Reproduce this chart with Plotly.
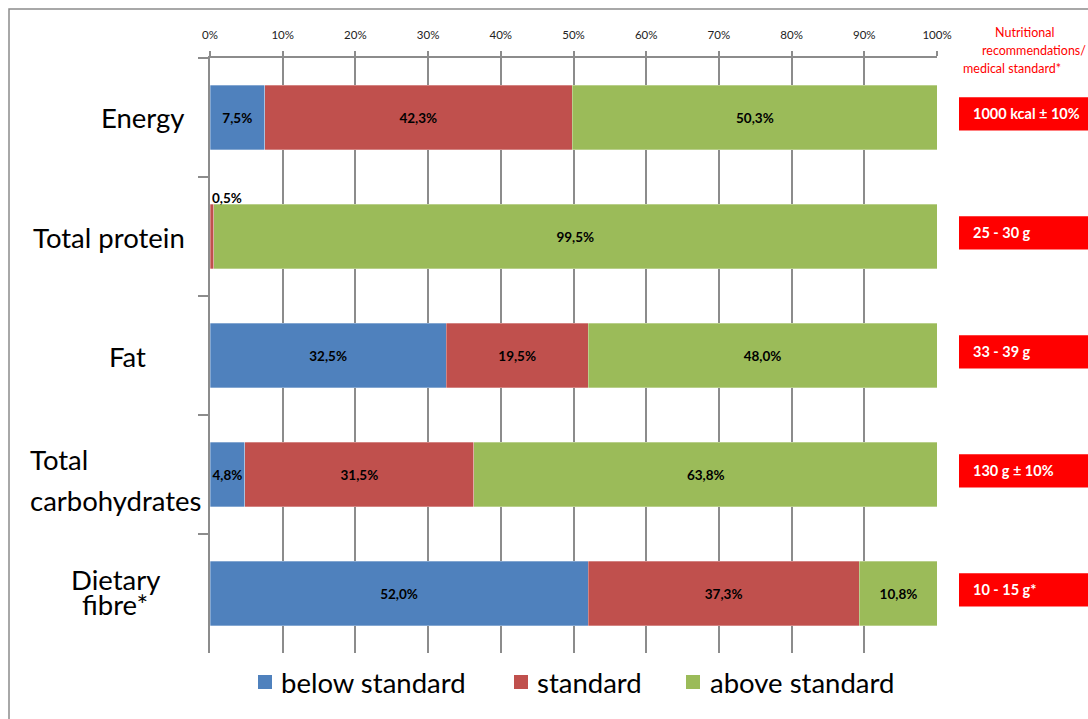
import plotly.graph_objects as go

# Share of meals (%) per nutrient, split by how they compare with the standard
categories = ["Energy", "Total protein", "Fat", "Total carbohydrates", "Dietary fibre*"]
below_standard = [7.5, 0.0, 32.5, 4.8, 52.0]
standard = [42.3, 0.5, 19.5, 31.5, 37.3]
above_standard = [50.3, 99.5, 48.0, 63.8, 10.8]
recommendations = ["1000 kcal ± 10%", "25 - 30 g", "33 - 39 g", "130 g ± 10%", "10 - 15 g*"]
tick_values = [0, 10, 20, 30, 40, 50, 60, 70, 80, 90, 100]
tick_labels = [f"{v}%" for v in tick_values]

series = [
    ("below standard", below_standard, "#4F81BD"),
    ("standard", standard, "#C0504D"),
    ("above standard", above_standard, "#9BBB59"),
]

FONT = "Lato"
W, H = 1088, 719
L, R, T, B = 210, 151, 58, 66
PW, PH = W - L - R, H - T - B


def px_x(px):
    return (px - L) / PW


def px_y(py):
    return (H - B - py) / PH


def pct(v):
    return f"{v:.1f}".replace(".", ",") + "%"


fig = go.Figure()
for name, vals, color in series:
    # very thin segments get their label placed above the bar instead
    texts = [pct(v) if v >= 2 else "" for v in vals]
    fig.add_trace(go.Bar(
        name=name, y=categories, x=vals, orientation="h",
        marker=dict(color=color, line=dict(width=0.6, color="rgba(255,255,255,0.5)")),
        text=texts, textposition="inside", insidetextanchor="middle", textangle=0,
        textfont=dict(family=FONT, size=13.5, color="black", weight="bold"),
        width=0.54, hoverinfo="skip", showlegend=False,
    ))

annotations = []
shapes = []

# small-segment labels above the bar
names = [n for n, _, _ in series]
for i, cat in enumerate(categories):
    for k, (name, vals, color) in enumerate(series):
        v = vals[i]
        if 0 < v < 2:
            start = sum(s[1][i] for s in series[:k])
            annotations.append(dict(
                x=start, y=cat, xref="x", yref="y", text=pct(v), showarrow=False,
                xanchor="left", yanchor="bottom", yshift=29,
                font=dict(family=FONT, size=13.5, color="black", weight="bold"),
            ))

# category labels on the left
label_lines = {
    "Energy": [("Energy", 143, 118)],
    "Total protein": [("Total protein", 109, 237)],
    "Fat": [("Fat", 127, 356)],
    "Total carbohydrates": [("Total", 28, 459, "left"), ("carbohydrates", 28, 500, "left")],
    "Dietary fibre*": [("Dietary", 115, 579), ("fibre*", 115, 604)],
}
for cat in categories:
    for item in label_lines[cat]:
        txt, xp, yp = item[0], item[1], item[2]
        anchor = item[3] if len(item) > 3 else "center"
        annotations.append(dict(
            x=px_x(xp), y=px_y(yp), xref="paper", yref="paper", text=txt,
            showarrow=False, xanchor=anchor, yanchor="middle",
            font=dict(family=FONT, size=27.5, color="black"),
        ))

# recommendation boxes on the right
for i, (cat, rec) in enumerate(zip(categories, recommendations)):
    shapes.append(dict(
        type="rect", xref="paper", yref="y",
        x0=px_x(959), x1=px_x(1100), y0=i - 0.03 - 0.14, y1=i - 0.03 + 0.14,
        fillcolor="#FF0000", line=dict(width=0), layer="above",
    ))
    annotations.append(dict(
        x=px_x(971), y=i - 0.03, xref="paper", yref="y", text=rec, showarrow=False,
        xanchor="left", yanchor="middle",
        font=dict(family=FONT, size=14.5, color="white", weight="bold"),
    ))

# header for the recommendation column
for txt, xp, yp, anchor in [
    ("Nutritional", 1024, 33, "center"),
    ("recommendations/", 1088, 50, "right"),
    ("medical standard*", 961, 68, "left"),
]:
    annotations.append(dict(
        x=px_x(xp), y=px_y(yp), xref="paper", yref="paper", text=txt, showarrow=False,
        xanchor=anchor, yanchor="middle",
        font=dict(family=FONT, size=12.5, color="#FF0000"),
    ))

# legend drawn as colour squares with labels below the plot
legend_pos = [(258, 279), (514, 535), (686, 708)]
for (name, vals, color), (sq_x, tx_x) in zip(series, legend_pos):
    shapes.append(dict(
        type="rect", xref="paper", yref="paper",
        x0=px_x(sq_x), x1=px_x(sq_x + 14), y0=px_y(689), y1=px_y(675),
        fillcolor=color, line=dict(width=0),
    ))
    annotations.append(dict(
        x=px_x(tx_x), y=px_y(682), xref="paper", yref="paper", text=name,
        showarrow=False, xanchor="left", yanchor="middle",
        font=dict(family=FONT, size=27.5, color="black"),
    ))

# chart frame
shapes.append(dict(
    type="rect", xref="paper", yref="paper",
    x0=px_x(9), x1=px_x(1200), y0=px_y(800), y1=px_y(9),
    line=dict(color="#8C8C8C", width=1.5), fillcolor="rgba(0,0,0,0)",
))

fig.update_layout(
    barmode="stack",
    width=W, height=H,
    margin=dict(l=L, r=R, t=T, b=B, autoexpand=False),
    paper_bgcolor="white", plot_bgcolor="white",
    font=dict(family=FONT, color="black"),
    xaxis=dict(
        side="top", range=[0, 100], tickvals=tick_values, ticktext=tick_labels,
        tickfont=dict(family=FONT, size=11.5, color="#222"),
        ticks="outside", ticklen=5, tickcolor="#8C8C8C", tickwidth=1.5,
        ticklabelstandoff=8,
        showgrid=True, gridcolor="#8C8C8C", gridwidth=1.5,
        showline=True, linecolor="#8C8C8C", linewidth=1.5,
        zeroline=False, fixedrange=True,
    ),
    yaxis=dict(
        categoryorder="array", categoryarray=categories, autorange="reversed",
        showticklabels=False, ticks="outside", tickson="boundaries", ticklen=10,
        tickcolor="#8C8C8C", tickwidth=1.5,
        showline=True, linecolor="#8C8C8C", linewidth=1.5, showgrid=False,
        fixedrange=True,
    ),
    uniformtext=dict(minsize=13.5, mode="show"),
    annotations=annotations,
    shapes=shapes,
    showlegend=False,
)

fig.write_html("out.html")
